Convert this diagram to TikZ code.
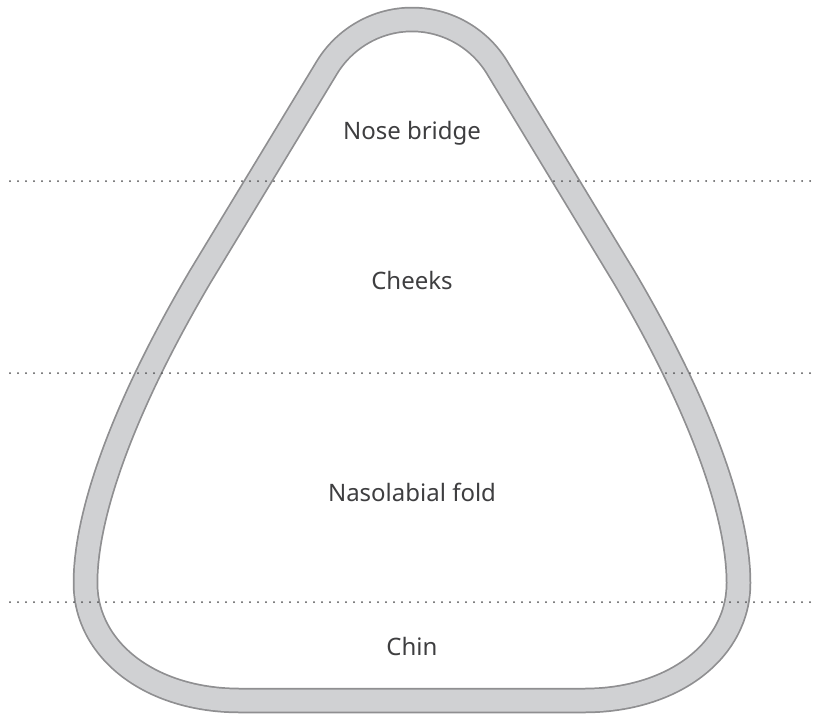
\documentclass[tikz,border=0pt]{standalone}
\usepackage{fontspec}
\setmainfont{Noto Sans}
\definecolor{bandfill}{RGB}{208,209,211}
\definecolor{bandline}{RGB}{143,143,145}
\definecolor{dotcol}{RGB}{80,80,82}
\definecolor{txtcol}{RGB}{62,62,64}
\begin{document}
\begin{tikzpicture}[x=1pt,y=-1pt,
  zonelabel/.style={anchor=base,text=txtcol,font=\fontsize{24}{28}\selectfont,inner sep=0pt},
  divider/.style={draw=dotcol,line width=2pt,line cap=round,dash pattern=on 0pt off 8pt}]
\useasboundingbox (0,0) rectangle (822,716);
\def\maskpath{(412,19.5) .. controls (376.6,19.5) and (343.9,38.5) .. (326,69)
  -- (200,277)
  .. controls (124,406) and (85.5,513) .. (85.5,583)
  .. controls (85.5,650) and (150,700.5) .. (240,700.5)
  -- (584,700.5)
  .. controls (674,700.5) and (738.5,650) .. (738.5,583)
  .. controls (738.5,513) and (700,406) .. (624,277)
  -- (498,69)
  .. controls (480.1,38.5) and (447.4,19.5) .. (412,19.5) -- cycle}
\draw[bandline,line width=25.5pt,line join=round] \maskpath;
\draw[bandfill,line width=22pt,line join=round] \maskpath;
\coordinate (d1a) at (10,181); \coordinate (d1b) at (815,181);
\coordinate (d2a) at (10,373); \coordinate (d2b) at (815,373);
\coordinate (d3a) at (10,602); \coordinate (d3b) at (815,602);
\draw[divider] (d1a) -- (d1b);
\draw[divider] (d2a) -- (d2b);
\draw[divider] (d3a) -- (d3b);
\node[zonelabel] (nose) at (412,139) {Nose bridge};
\node[zonelabel] (cheeks) at (412,289.5) {Cheeks};
\node[zonelabel] (naso) at (412,501) {Nasolabial fold};
\node[zonelabel] (chin) at (412,655.5) {Chin};
\end{tikzpicture}
\end{document}
